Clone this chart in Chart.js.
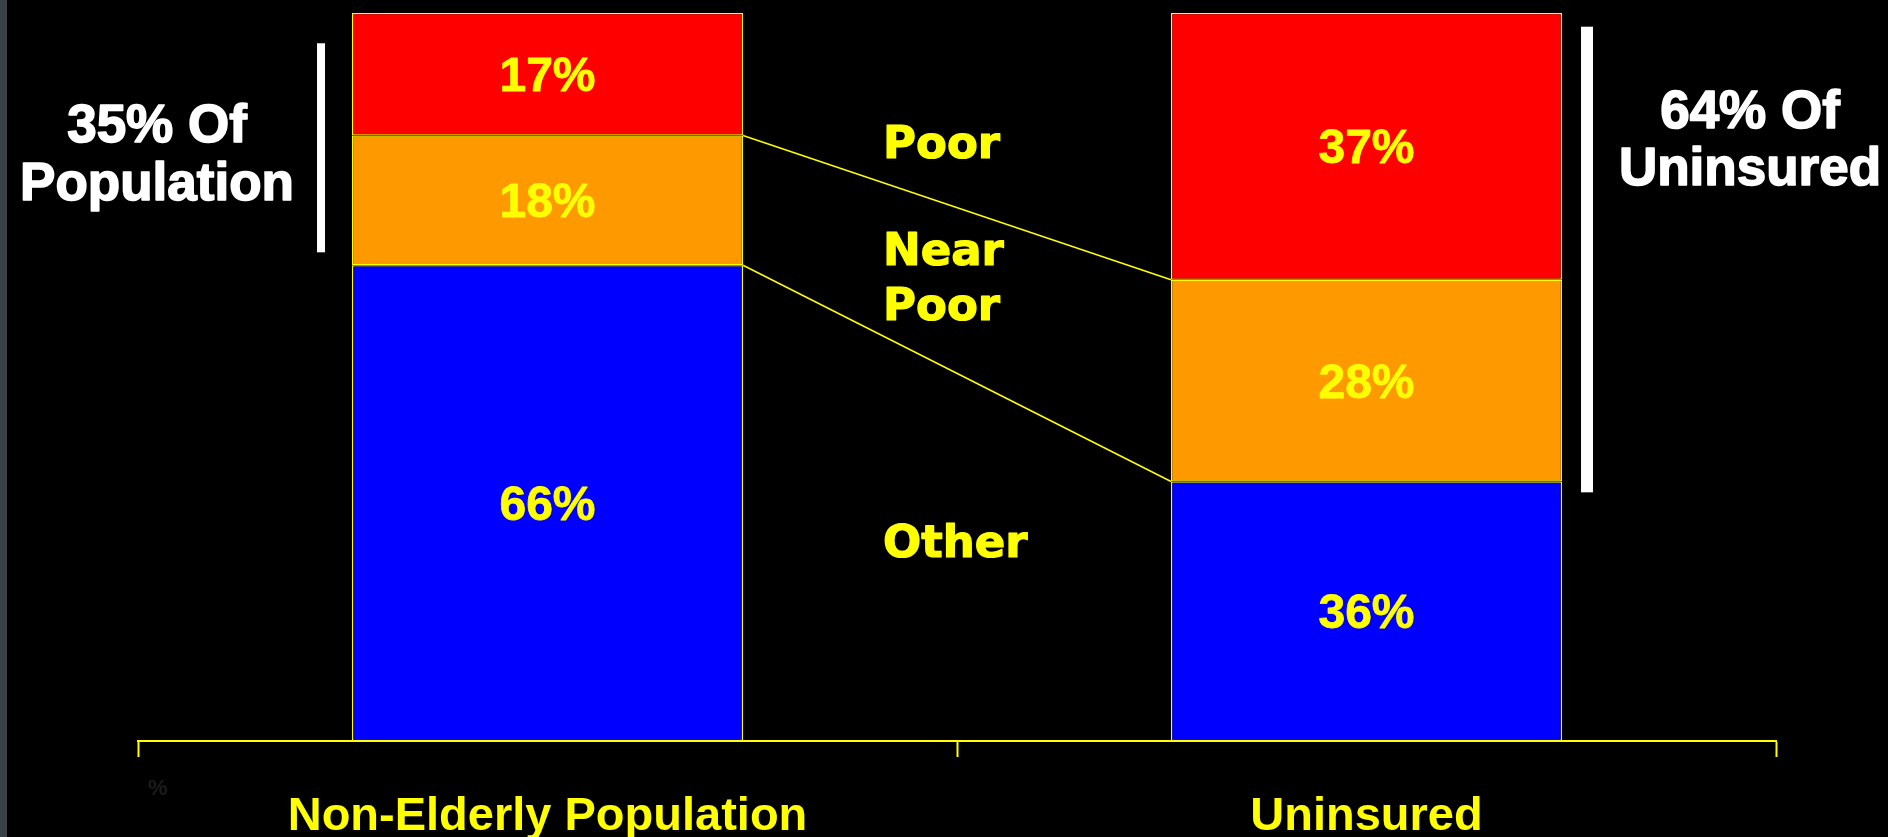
<!DOCTYPE html>
<html>
<head>
<meta charset="utf-8">
<script src="https://cdn.jsdelivr.net/npm/chart.js@4.4.1/dist/chart.umd.min.js"></script>
<style>
  html, body { margin: 0; padding: 0; background: #000; }
  #wrap { width: 1888px; height: 837px; }
</style>
</head>
<body>
<div id="wrap"><canvas id="myChart" width="1888" height="837"></canvas></div>
<script>
// data
const categories = ['Non-Elderly Population', 'Uninsured'];
const seriesNames = ['Other', 'Near Poor', 'Poor'];
const otherValues = [66, 36];
const nearPoorValues = [18, 28];
const poorValues = [17, 37];
// where the series names sit between the bars (y values on the % scale)
const seriesLabelAt = [25.5, 66, 80.9];
// white brackets: [from, to] on the % scale
const bracketLeft = [67.8, 96.8];
const bracketRight = [34.5, 99.1];
const bracketText = [['35% Of', 'Population'], ['64% Of', 'Uninsured']];

const YELLOW = '#ffff00';
const colors = ['#0000ff', '#ff9900', '#ff0000'];

// fill + thin stroke so the text looks as heavy as on the slide
function heavyText(c, txt, x, y, w) {
    c.lineWidth = w;
    c.lineJoin = 'round';
    c.strokeStyle = c.fillStyle;
    c.strokeText(txt, x, y);
    c.fillText(txt, x, y);
}

const slidePlugin = {
    id: 'slide',
    beforeDraw(chart) {
        const c = chart.ctx;
        c.save();
        c.fillStyle = '#000';
        c.fillRect(0, 0, chart.width, chart.height);
        // grey slide edge on the left
        c.fillStyle = '#3a4048';
        c.fillRect(0, 0, 7, chart.height);
        c.restore();
    },
    afterDatasetsDraw(chart) {
        const c = chart.ctx;
        const x = chart.scales.x;
        const y = chart.scales.y;
        const bars0 = chart.getDatasetMeta(0).data;

        c.save();
        // connector lines between the stacks
        c.strokeStyle = YELLOW;
        c.lineWidth = 1.5;
        const lb = bars0[0], rb = bars0[1];
        const lRight = lb.x + lb.width / 2;
        const rLeft = rb.x - rb.width / 2;
        [0, 1].forEach(function (k) {
            const lv = k === 0 ? otherValues[0] : otherValues[0] + nearPoorValues[0];
            const rv = k === 0 ? otherValues[1] : otherValues[1] + nearPoorValues[1];
            c.beginPath();
            c.moveTo(lRight, y.getPixelForValue(lv));
            c.lineTo(rLeft, y.getPixelForValue(rv));
            c.stroke();
        });

        // value labels in the segments
        c.fillStyle = YELLOW;
        c.font = 'bold 48px "Liberation Sans", Arial, sans-serif';
        c.textAlign = 'center';
        c.textBaseline = 'alphabetic';
        chart.data.datasets.forEach(function (ds, di) {
            chart.getDatasetMeta(di).data.forEach(function (bar, i) {
                const mid = (bar.y + bar.base) / 2;
                heavyText(c, ds.data[i] + '%', bar.x, mid + 17, 0.8);
            });
        });

        // series names in the gap
        const gapX = x.getPixelForValue(0.5) - 74;
        c.textAlign = 'left';
        c.font = 'bold 45px "DejaVu Sans", Verdana, sans-serif';
        heavyText(c, 'Other', gapX, y.getPixelForValue(seriesLabelAt[0]), 1.2);
        heavyText(c, 'Near', gapX, y.getPixelForValue(seriesLabelAt[1]), 1.2);
        heavyText(c, 'Poor', gapX, y.getPixelForValue(seriesLabelAt[1]) + 55, 1.2);
        heavyText(c, 'Poor', gapX, y.getPixelForValue(seriesLabelAt[2]), 1.2);

        // white brackets and their text
        c.fillStyle = '#ffffff';
        const lbx = lb.x - lb.width / 2 - 31;
        c.fillRect(lbx - 4, y.getPixelForValue(bracketLeft[1]), 8,
            y.getPixelForValue(bracketLeft[0]) - y.getPixelForValue(bracketLeft[1]));
        const rbx = rb.x + rb.width / 2 + 25;
        c.fillRect(rbx - 6, y.getPixelForValue(bracketRight[1]), 12,
            y.getPixelForValue(bracketRight[0]) - y.getPixelForValue(bracketRight[1]));

        c.font = 'bold 53px "Liberation Sans", Arial, sans-serif';
        c.textAlign = 'center';
        heavyText(c, bracketText[0][0], 157, 142, 1.6);
        heavyText(c, bracketText[0][1], 157, 200, 1.6);
        heavyText(c, bracketText[1][0], 1750, 128, 1.6);
        heavyText(c, bracketText[1][1], 1750, 185, 1.6);

        // category names under the axis
        c.fillStyle = YELLOW;
        c.font = 'bold 47px "Liberation Sans", Arial, sans-serif';
        categories.forEach(function (cat, i) {
            c.fillText(cat, x.getPixelForValue(i), 830);
        });

        // faint leftover axis mark
        c.fillStyle = '#1c1c1c';
        c.font = 'bold 22px "Liberation Sans", Arial, sans-serif';
        c.textAlign = 'left';
        c.fillText('%', 148, 795);
        c.restore();
    }
};

const ctx = document.getElementById('myChart').getContext('2d');
const myChart = new Chart(ctx, {
    type: 'bar',
    data: {
        labels: categories,
        datasets: [
            { label: seriesNames[0], data: otherValues, backgroundColor: colors[0] },
            { label: seriesNames[1], data: nearPoorValues, backgroundColor: colors[1] },
            { label: seriesNames[2], data: poorValues, backgroundColor: colors[2] }
        ].map(function (ds) {
            return Object.assign(ds, {
                borderColor: YELLOW,
                borderWidth: 1.3,
                borderSkipped: false,
                barPercentage: 1,
                categoryPercentage: 0.4774
            });
        })
    },
    options: {
        responsive: false,
        animation: false,
        layout: { padding: { left: 138, right: 112, top: 13, bottom: 80 } },
        plugins: {
            legend: { display: false },
            tooltip: { enabled: false }
        },
        scales: {
            x: {
                stacked: true,
                offset: true,
                grid: {
                    offset: true,
                    drawOnChartArea: false,
                    drawTicks: true,
                    tickLength: 16,
                    tickWidth: 2,
                    tickColor: YELLOW
                },
                border: { display: true, color: YELLOW, width: 2 },
                ticks: { display: false }
            },
            y: {
                stacked: true,
                display: false,
                min: 0,
                max: 101
            }
        }
    },
    plugins: [slidePlugin]
});
</script>
</body>
</html>
